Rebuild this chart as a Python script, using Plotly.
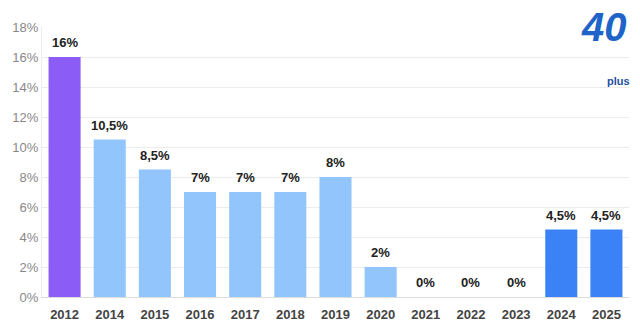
import plotly.graph_objects as go

years = ["2012", "2014", "2015", "2016", "2017", "2018", "2019", "2020", "2021", "2022", "2023", "2024", "2025"]
values = [16, 10.5, 8.5, 7, 7, 7, 8, 2, 0, 0, 0, 4.5, 4.5]
labels = ["16%", "10,5%", "8,5%", "7%", "7%", "7%", "8%", "2%", "0%", "0%", "0%", "4,5%", "4,5%"]
colors = ["#8B5CF6"] + ["#93C5FD"] * 10 + ["#3B82F6"] * 2
ytickvals = [0, 2, 4, 6, 8, 10, 12, 14, 16, 18]
yticktext = [f"{v}%" for v in ytickvals]

xpos = list(range(len(years)))

fig = go.Figure()
fig.add_trace(go.Bar(x=xpos, y=values, marker=dict(color=colors, line=dict(width=0)),
                     hoverinfo="skip"))
for i, v, lab in zip(xpos, values, labels):
    fig.add_annotation(x=i, y=v, text=f"<b>{lab}</b>", showarrow=False, yanchor="bottom",
                       yshift=5, font=dict(family="Liberation Sans, Arial", size=13, color="#222"))

# logo approximation
fig.add_annotation(xref="paper", yref="paper", x=1.0, y=1.09, xanchor="right", yanchor="top",
                   text="<b><i>40</i></b>", showarrow=False,
                   font=dict(family="Liberation Sans, Arial", size=40, color="#1E63C8"))
fig.add_annotation(xref="paper", yref="paper", x=1.005, y=0.83, xanchor="right", yanchor="top",
                   text="<b>plus</b>", showarrow=False,
                   font=dict(family="Liberation Sans, Arial", size=11, color="#1E4FA0"))

fig.update_layout(
    width=640, height=330,
    margin=dict(l=42, r=11, t=27, b=33),
    paper_bgcolor="white", plot_bgcolor="white",
    bargap=0.29, showlegend=False,
    xaxis=dict(range=[-0.5, len(years) - 0.5], tickvals=xpos,
               ticktext=[f"<b>{y}</b>" for y in years],
               showgrid=False, showline=True, linecolor="#dcdcdc", zeroline=False,
               ticklabelstandoff=5, automargin=False,
               tickfont=dict(family="Liberation Sans, Arial", size=13, color="#444"), ticks=""),
    yaxis=dict(range=[0, 18], tickvals=ytickvals, ticktext=yticktext, showgrid=True,
               gridcolor="#ececec", zeroline=False, showline=True, linecolor="#ececec",
               automargin=False,
               tickfont=dict(family="Liberation Sans, Arial", size=13, color="#888"), ticks=""),
)
fig.write_html("out.html")
